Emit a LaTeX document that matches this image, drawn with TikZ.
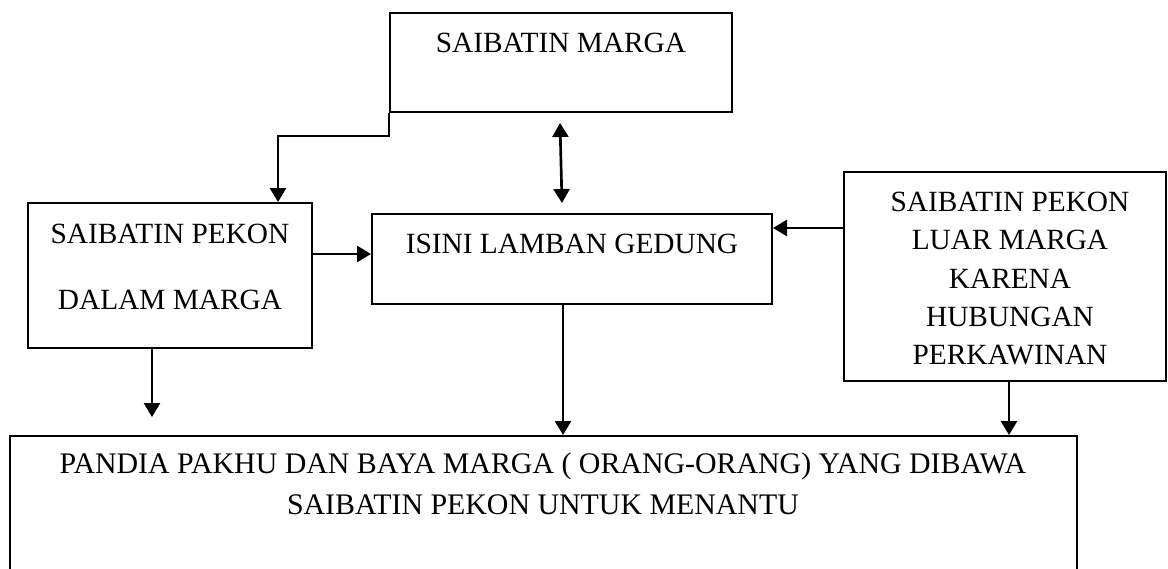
\documentclass[tikz,border=0pt]{standalone}
\usepackage{fontspec}
\setmainfont{Liberation Serif}
\usetikzlibrary{arrows.meta,fit}
\tikzset{
  box/.style={draw, line width=1.5pt, inner sep=0pt},
  txt/.style={inner sep=0pt, anchor=base, font=\fontsize{22}{26}\selectfont},
  wide txt/.style={txt, font=\fontsize{22.4}{26}\selectfont},
  tip/.tip={Triangle[length=10.5pt,width=12pt]},
  conn/.style={line width=2pt, -tip},
  conn2/.style={line width=2pt, tip-tip},
}
\begin{document}
\begin{tikzpicture}[x=0.75pt, y=-0.75pt]
  \useasboundingbox (0,0) rectangle (1168,568);
  \clip (0,0) rectangle (1168,568);

  % boxes
  \node[box, fit={(390,13)(732,112)}] (marga) {};
  \node[box, fit={(28,203)(312,348)}] (left) {};
  \node[box, fit={(372,214)(772,304)}] (isini) {};
  \node[box, fit={(844,172)(1166,381)}] (right) {};
  \node[box, fit={(10,436)(1077,620)}] (bottom) {};

  % box texts
  \node[txt] (marga-t) at (561,52) {SAIBATIN MARGA};
  \node[txt] (left-t1) at (170,243) {SAIBATIN PEKON};
  \node[txt] (left-t2) at (170,309) {DALAM MARGA};
  \node[txt] (isini-t) at (572,253) {ISINI LAMBAN GEDUNG};
  \node[txt] (right-t1) at (1010,211) {SAIBATIN PEKON};
  \node[txt] (right-t2) at (1010,249) {LUAR MARGA};
  \node[txt] (right-t3) at (1010,288) {KARENA};
  \node[txt] (right-t4) at (1010,326) {HUBUNGAN};
  \node[txt] (right-t5) at (1010,364) {PERKAWINAN};
  \node[wide txt] (bottom-t1) at (543,473) {PANDIA PAKHU DAN BAYA MARGA ( ORANG-ORANG) YANG DIBAWA};
  \node[wide txt] (bottom-t2) at (543,514) {SAIBATIN PEKON UNTUK MENANTU};

  % connectors
  \coordinate (bend) at (278,136);
  \draw[conn] (marga.south west) |- (bend) -- (bend |- left.north);

  \coordinate (both-top) at (560,123);
  \coordinate (both-bot) at (562,203);
  \draw[conn2] (both-top) -- (both-bot);

  \draw[conn] (left.east |- 0,254) -- (isini.west |- 0,254);
  \draw[conn] (right.west |- 0,228) -- (isini.east |- 0,228);
  \draw[conn] (isini.south -| 563,0) -- (bottom.north -| 563,0);

  \coordinate (left-end) at (152,417);
  \draw[conn] (left.south -| left-end) -- (left-end);
  \draw[conn] (right.south -| 1009,0) -- (bottom.north -| 1009,0);
\end{tikzpicture}
\end{document}
